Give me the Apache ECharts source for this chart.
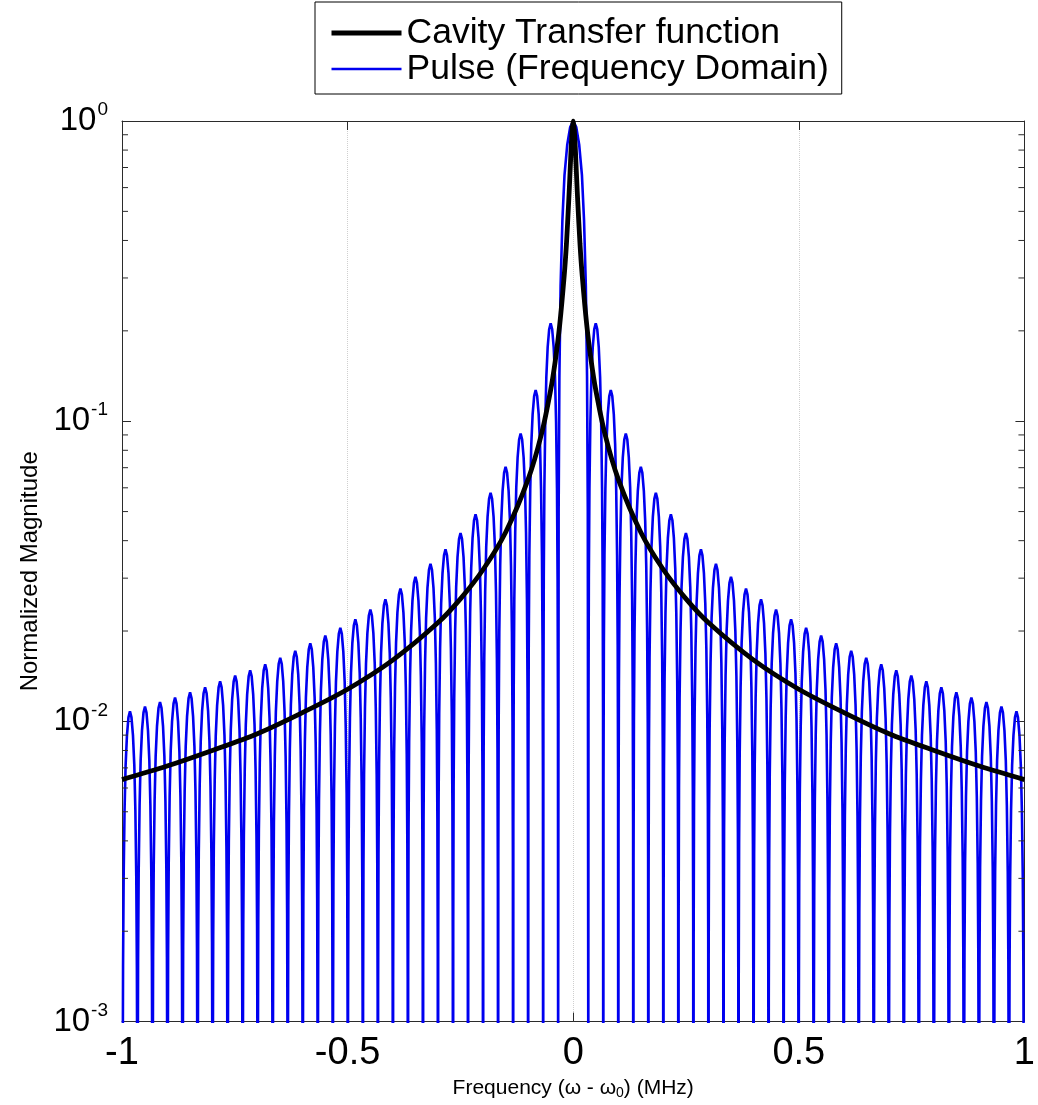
<!DOCTYPE html>
<html><head><meta charset="utf-8">
<script src="https://cdn.jsdelivr.net/npm/echarts@6/dist/echarts.min.js"></script>
<style>html,body{margin:0;padding:0;background:#fff}#c{width:1038px;height:1105px}</style>
</head><body><div id="c"></div>
<script>
// ---- data ----
const xTicks = [-1, -0.5, 0, 0.5, 1];
const yMinorTicks = [0.002,0.003,0.004,0.005,0.006,0.007,0.008,0.009,
                     0.02,0.03,0.04,0.05,0.06,0.07,0.08,0.09,
                     0.2,0.3,0.4,0.5,0.6,0.7,0.8,0.9];
// Cavity transfer function (symmetric about 0): frequency (MHz) and magnitude
const cavityFreq = [0, 0.002, 0.004, 0.006, 0.008, 0.01, 0.015, 0.02, 0.03, 0.04, 0.05, 0.07,
                    0.1, 0.15, 0.2, 0.25, 0.3, 0.4, 0.5, 0.6, 0.7, 0.8, 0.9, 1.0];
const cavityMag  = [1.0, 0.95, 0.85, 0.73, 0.625, 0.54, 0.39, 0.305, 0.209, 0.158, 0.127, 0.091,
                    0.064, 0.0426, 0.032, 0.0256, 0.0213, 0.016, 0.0128, 0.0107, 0.0091, 0.008, 0.0071, 0.0064];
// Pulse spectrum: width of one side lobe (MHz), main-lobe peak and side-lobe peaks (lobe 1 .. 29, both sides)
const lobeWidth = 0.0333;
const mainLobePeak = 1.0;
const sideLobePeaks = [0.212, 0.127, 0.091, 0.0705, 0.0577, 0.049, 0.0424, 0.0374, 0.0335, 0.0303,
                       0.0277, 0.0255, 0.0236, 0.0219, 0.0205, 0.0193, 0.0182, 0.0172, 0.0163, 0.0155,
                       0.0148, 0.0142, 0.0136, 0.0130, 0.0125, 0.0120, 0.0116, 0.0112, 0.0108];
// lobe outline: fraction of lobe width from its null, and drop below the lobe peak (decades)
const lobeShapeU    = [0, 0.015, 0.04, 0.08, 0.14, 0.21, 0.3, 0.4, 0.5];
const lobeShapeDrop = [-3, -1.3, -0.85, -0.55, -0.33, -0.18, -0.08, -0.02, 0];

// ---- build series ----
function lobePoints(a, b, peak) {
  const pts = [];
  for (let i = 0; i < lobeShapeU.length; i++)
    pts.push([a + lobeShapeU[i] * (b - a), peak * Math.pow(10, lobeShapeDrop[i])]);
  for (let i = lobeShapeU.length - 2; i >= 0; i--)
    pts.push([b - lobeShapeU[i] * (b - a), peak * Math.pow(10, lobeShapeDrop[i])]);
  return pts;
}
let pulseData = [];
for (let n = sideLobePeaks.length; n >= 1; n--)
  pulseData = pulseData.concat(lobePoints(-(n + 1) * lobeWidth, -n * lobeWidth, sideLobePeaks[n - 1]));
pulseData = pulseData.concat(lobePoints(-lobeWidth, lobeWidth, mainLobePeak));
for (let n = 1; n <= sideLobePeaks.length; n++)
  pulseData = pulseData.concat(lobePoints(n * lobeWidth, (n + 1) * lobeWidth, sideLobePeaks[n - 1]));

const cavityData = [];
for (let i = cavityFreq.length - 1; i > 0; i--) cavityData.push([-cavityFreq[i], cavityMag[i]]);
for (let i = 0; i < cavityFreq.length; i++) cavityData.push([cavityFreq[i], cavityMag[i]]);

const FONT = "'Liberation Sans', Arial, sans-serif";
const AX = '#2b2b2b';
const chart = echarts.init(document.getElementById('c'), null, {renderer: 'canvas'});
const yLabelRich = {
  b: {fontSize: 33, fontFamily: FONT, color: '#000'},
  s: {fontSize: 19, fontFamily: FONT, color: '#000', verticalAlign: 'bottom', padding: [0, 0, 22, 1]}
};
chart.setOption({
  animation: false,
  backgroundColor: '#fff',
  grid: {left: 122, right: 5, top: 121, bottom: 83, containLabel: false},
  legend: {
    data: [
      {name: 'Cavity Transfer function', lineStyle: {width: 5, color: '#000'}},
      {name: 'Pulse (Frequency Domain)', lineStyle: {width: 2.4, color: '#0000f0'}}
    ],
    orient: 'vertical', left: 315, top: 2,
    padding: [13, 13, 7, 14], itemGap: 0, itemWidth: 70, itemHeight: 14, itemTextGap: 8,
    itemStyle: {opacity: 0},
    backgroundColor: '#fff', borderColor: '#000', borderWidth: 1,
    textStyle: {fontSize: 35.5, fontFamily: FONT, color: '#000'}
  },
  xAxis: [{
    type: 'value', min: -1, max: 1, interval: 0.5,
    axisLine: {show: true, onZero: false, lineStyle: {color: AX, width: 1}},
    axisTick: {show: true, inside: true, length: 9, lineStyle: {color: AX}},
    axisLabel: {fontSize: 38, fontFamily: FONT, color: '#000', margin: 13,
                formatter: v => String(v)},
    splitLine: {show: true, lineStyle: {color: '#cfcfcf', type: 'dotted', width: 1}},
    name: '{a|Frequency (ω - ω}{sub|0}{a|) (MHz)}',
    nameLocation: 'middle', nameGap: 50,
    nameTextStyle: {rich: {
      a: {fontSize: 21, fontFamily: FONT, color: '#000'},
      sub: {fontSize: 14, fontFamily: FONT, color: '#000', verticalAlign: 'top', padding: [10, 0, 0, 0]}
    }}
  }, {
    type: 'value', position: 'top', min: -1, max: 1, interval: 0.5,
    axisLine: {show: true, onZero: false, lineStyle: {color: AX, width: 1}},
    axisTick: {show: true, inside: true, length: 9, lineStyle: {color: AX}},
    axisLabel: {show: false}, splitLine: {show: false}
  }],
  yAxis: [{
    type: 'log', logBase: 10, min: 0.001, max: 1,
    axisLine: {show: true, onZero: false, lineStyle: {color: AX, width: 1}},
    axisTick: {show: true, inside: true, length: 9, lineStyle: {color: AX}},
    axisLabel: {margin: 14, rich: yLabelRich,
      formatter: v => '{b|10}{s|' + Math.round(Math.log10(v)) + '}'},
    splitLine: {show: false},
    name: 'Normalized Magnitude', nameLocation: 'middle', nameRotate: 90, nameGap: 78,
    nameTextStyle: {fontSize: 24, fontFamily: FONT, color: '#000'}
  }, {
    type: 'log', logBase: 10, min: 0.001, max: 1, position: 'right',
    axisLine: {show: true, onZero: false, lineStyle: {color: AX, width: 1}},
    axisTick: {show: true, inside: true, length: 9, lineStyle: {color: AX}},
    axisLabel: {show: false}, splitLine: {show: false}
  }],
  series: [{
    name: 'Pulse (Frequency Domain)', type: 'line', data: pulseData,
    showSymbol: false, symbol: 'none', z: 2,
    lineStyle: {color: '#0000f0', width: 2.6}, itemStyle: {color: '#0000f0'}
  }, {
    name: 'Cavity Transfer function', type: 'line', data: cavityData,
    showSymbol: false, symbol: 'none', smooth: 0.3, z: 3,
    lineStyle: {color: '#000', width: 4.8}, itemStyle: {color: '#000'}
  }, {
    name: 'minorTicks', type: 'custom', silent: true, z: 4,
    data: yMinorTicks.map(v => [-1, v]),
    renderItem: function (params, api) {
      const cs = params.coordSys;
      const y = api.coord([-1, api.value(1)])[1];
      const st = {stroke: AX, lineWidth: 1};
      return {type: 'group', children: [
        {type: 'line', shape: {x1: cs.x, y1: y, x2: cs.x + 6, y2: y}, style: st},
        {type: 'line', shape: {x1: cs.x + cs.width - 6, y1: y, x2: cs.x + cs.width, y2: y}, style: st}
      ]};
    }
  }]
});
</script></body></html>
